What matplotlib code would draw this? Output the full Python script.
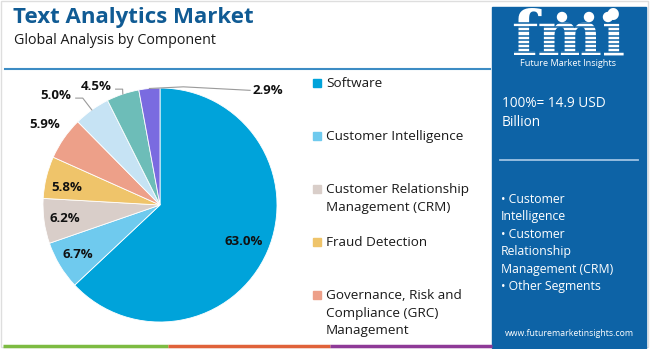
import numpy as np
import matplotlib
matplotlib.use("Agg")
import matplotlib.pyplot as plt
from matplotlib.patches import Rectangle

plt.rcParams['font.family'] = ['Open Sans', 'DejaVu Sans']

# segment shares (%) in drawing order, clockwise from 12 o'clock
segments = ["Software", "Customer Intelligence", "Customer Relationship\nManagement (CRM)",
            "Fraud Detection", "Governance, Risk and\nCompliance (GRC)\nManagement",
            "Other A", "Other B", "Other C"]
shares = [63.0, 6.7, 6.2, 5.8, 5.9, 5.0, 4.5, 2.9]
colors = ["#00a3da", "#6fcaee", "#d9cec9", "#efc46a", "#eda089",
          "#c6e3f4", "#6dbdb8", "#7a6be0"]
legend_items = 5  # only the first five segments get a legend row

title = "Text Analytics Market"
subtitle = "Global Analysis by Component"
total_text = "100%= 14.9 USD\nBillion"
highlights = ["• Customer\nIntelligence", "• Customer\nRelationship\nManagement (CRM)",
              "• Other Segments"]
site = "www.futuremarketinsights.com"

W, H = 650, 349
fig = plt.figure(figsize=(W / 100, H / 100), dpi=100)
fig.patch.set_facecolor("white")

# overlay axes in pixel units for frame, panel and text
bg = fig.add_axes([0, 0, 1, 1])
bg.set_xlim(0, W)
bg.set_ylim(H, 0)
bg.axis("off")

bg.add_patch(Rectangle((1, 1), W - 3, H - 3, fill=False, ec="#dedede", lw=1))
bg.plot([5, 490], [69, 69], color="#3d8cc4", lw=1.5)

# coloured strip along the bottom
for x0, x1, c in [(3, 168, "#7dbb42"), (168, 330, "#e0623a"), (330, 492, "#8e3a97")]:
    bg.plot([x0, x1], [346, 346], color=c, lw=2.5, solid_capstyle="butt")

bg.text(13, 17, title, fontsize=16, fontweight="bold", color="#105b94", va="center")
bg.text(14, 41, subtitle, fontsize=10.3, color="#1a1a1a", va="center")

# right side info panel
panel_c = "#0d63a6"
bg.add_patch(Rectangle((492, 7), 154, 341, color=panel_c, zorder=1))
bg.text(568, 55, "fmi", fontsize=44, fontweight="bold", color="white",
        family="DejaVu Serif", ha="center", va="baseline", zorder=2)
for yy in np.arange(23, 56, 4.2):
    bg.plot([510, 630], [yy, yy], color=panel_c, lw=1.1, zorder=3)
for cx in [562, 589, 608]:
    bg.add_patch(plt.Circle((cx, 17), 4.5, color="white", zorder=4))
bg.text(568, 64, "Future Market Insights", fontsize=6.6, color="white",
        ha="center", va="center", zorder=4)
bg.text(502, 113, total_text, fontsize=9.8, color="white", va="center",
        linespacing=1.4, zorder=4)
bg.plot([500, 638], [160, 160], color="#9fc3e3", lw=1.3, zorder=4)
bg.text(501, 243, "\n".join(highlights), fontsize=8.8, color="white",
        va="center", linespacing=1.45, zorder=4)
bg.text(569, 333, site, fontsize=6.3, color="white", ha="center", va="center", zorder=4)

# legend rows, square aligned with the first line of each label
legend_y = [83, 136, 189, 242, 295]
for i in range(legend_items):
    bg.add_patch(Rectangle((313, legend_y[i] - 4), 8, 8, color=colors[i]))
    bg.text(326, legend_y[i] - 6, segments[i], fontsize=9.7, color="#1a1a1a",
            va="top", linespacing=1.45)

# pie
cx, cy, R = 160, 205, 117
ax = fig.add_axes([(cx - R) / W, 1 - (cy + R) / H, 2 * R / W, 2 * R / H])
wedges, _ = ax.pie(shares, colors=colors, startangle=90, counterclock=False,
                   wedgeprops=dict(edgecolor="white", linewidth=0.6))
ax.set_xlim(-1, 1)
ax.set_ylim(-1, 1)
ax.set_aspect("equal")

# label distance from centre (in radii) and optional angle tweak
label_r = [0.78, 0.82, 0.82, 0.81, 1.2, 1.29, 1.15, 1.0]
label_da = [0, 0, 0, 3, 0, 8, 10, 0]
leader = [False, False, False, False, False, True, True, True]

for i, w in enumerate(wedges):
    mid = np.deg2rad((w.theta1 + w.theta2) / 2 + label_da[i])
    tx, ty = label_r[i] * np.cos(mid), label_r[i] * np.sin(mid)
    txt = f"{shares[i]:.1f}%"
    if i == 7:
        tx, ty = 0.92, 0.98
    ax.text(tx, ty, txt, ha="center", va="center", fontsize=9.5,
            fontweight="bold", color="#111111", clip_on=False)
    if leader[i]:
        m0 = np.deg2rad((w.theta1 + w.theta2) / 2)
        px, py = np.cos(m0), np.sin(m0)
        if i == 7:
            xs, ys = [px, 0.2, 0.77], [py, 1.01, 0.98]
        else:
            ex = tx + 0.17
            xs, ys = [px, ex + 0.06, ex], [py, ty - 0.02, ty - 0.02]
        ax.plot(xs, ys, color="#9a9a9a", lw=0.8, clip_on=False)

fig.savefig("out.png", dpi=100, facecolor="white")
